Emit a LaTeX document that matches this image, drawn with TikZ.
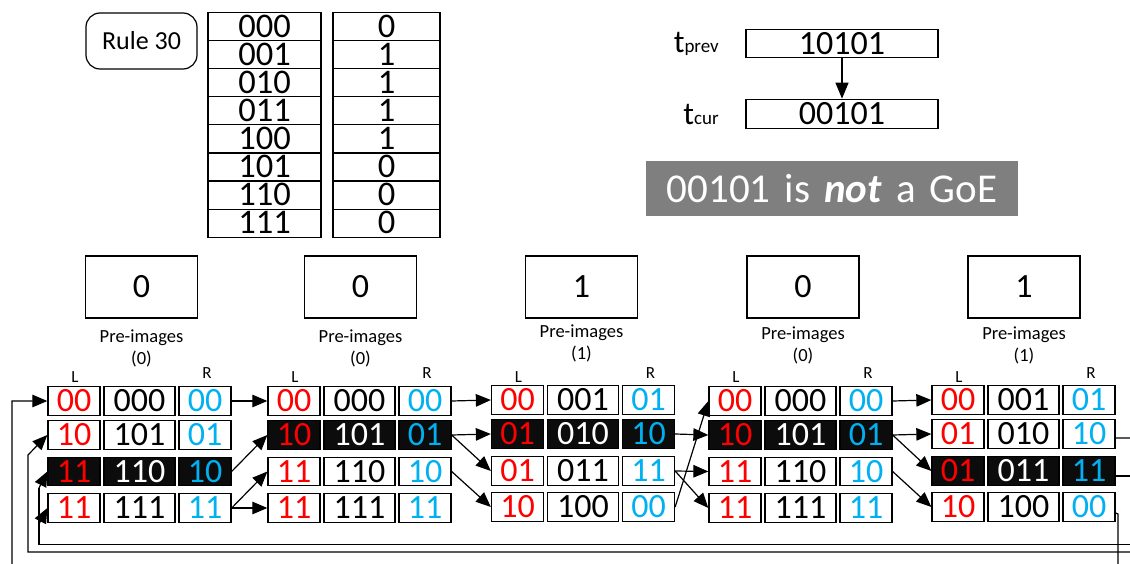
\documentclass[tikz,border=0pt]{standalone}
\usepackage{fontspec}
\setmainfont{Carlito}
\usetikzlibrary{arrows.meta}
\definecolor{cred}{RGB}{255,0,0}
\definecolor{ccyan}{RGB}{0,176,240}
\definecolor{cblack}{RGB}{12,12,12}
\definecolor{cgray}{RGB}{127,127,127}

% one row of a pre-image group: group, row, left x, centre y, L, middle, R, row style
\newcommand\cellrow[8]{%
  \node[lcell,#8]     (g#1l#2) at ({#3+26},#4)   {#5};
  \node[mcell,#8mid]  (g#1m#2) at ({#3+91.5},#4) {#6};
  \node[rcell,#8]     (g#1r#2) at ({#3+157},#4)  {#7};
}
% column heads of a group
\newcommand\cellgroup[2]{%
  \node[fs=17] (g#1lab) at ({#2+27},377) {L};
  \node[fs=17] (g#1rab) at ({#2+159},373) {R};
}

\begin{document}
\begin{tikzpicture}[x=1pt,y=-1pt,
  fs/.style={font=\fontsize{#1}{#1}\selectfont},
  box/.style={draw, line width=1.3pt, inner sep=0pt},
  cell/.style={box, minimum height=28.5pt, text height=21.5pt, text depth=0pt, fs=34},
  lcell/.style={cell, minimum width=52pt, text=cred},
  mcell/.style={cell, minimum width=71pt},
  rcell/.style={cell, minimum width=52pt, text=ccyan},
  darkrow/.style={fill=cblack},
  darkrowmid/.style={fill=cblack, text=white},
  plainrow/.style={},
  plainrowmid/.style={},
  tcell/.style={box, minimum height=28.1pt, text height=21.5pt, text depth=0pt, fs=34.5},
  arr/.style={line width=1.2pt, -{Triangle[length=15pt,width=12.5pt]}},
  wire/.style={line width=1.2pt},
  numbox/.style={box, minimum width=112pt, minimum height=62pt, fs=34},
  prelab/.style={font=\fontsize{18.5}{22}\selectfont, align=center, anchor=north},
  tlab/.style={anchor=base east, inner sep=0pt, fs=32},
]
\clip (0,0) rectangle (1130,564);

% rule box and rule table
\node[draw, line width=1.2pt, rounded corners=14pt, minimum width=111pt,
      minimum height=56pt, fs=26] (rule) at (141.5,41) {Rule 30};
\foreach \i/\a/\b in {1/000/0,2/001/1,3/010/1,4/011/1,5/100/1,6/101/0,7/110/0,8/111/0}{
  \node[tcell, minimum width=113pt] (ta\i) at (264.5,{12.3+28.125*(\i-0.5)}) {\a};
  \node[tcell, minimum width=107pt] (tb\i) at (386.5,{12.3+28.125*(\i-0.5)}) {\b};
}

% previous and current configurations
\node[box, minimum width=192pt, minimum height=28pt, text height=21.5pt, text depth=0pt, fs=34]
  (tprev) at (842,43.3) {10101};
\node[box, minimum width=192pt, minimum height=29pt, text height=21.5pt, text depth=0pt, fs=34]
  (tcur) at (842,113.8) {00101};
\draw[line width=1.2pt, -{Triangle[length=16pt,width=13pt]}] (tprev) -- (tcur);
\node[tlab] (lprev) at (719,53) {t{\fontsize{19}{19}\selectfont prev}};
\node[tlab] (lcur) at (719,125) {t{\fontsize{19}{19}\selectfont cur}};

\node[fill=cgray, minimum width=372pt, minimum height=55pt, text=white, fs=41]
  (goe) at (832,188.5) {\spaceskip 14pt\relax 00101 is \textbf{\textit{not}} a GoE};

% target cells with their pre-image counts
\node[numbox] (n1) at (141.5,287) {0};
\node[numbox] (n2) at (360.5,287) {0};
\node[numbox] (n3) at (581.5,287) {1};
\node[numbox] (n4) at (803,287) {0};
\node[numbox] (n5) at (1024,287) {1};
\node[prelab] (p1) at (141.5,326) {Pre-images\\(0)};
\node[prelab] (p2) at (360.5,326) {Pre-images\\(0)};
\node[prelab] (p3) at (581.5,321) {Pre-images\\(1)};
\node[prelab] (p4) at (803,323) {Pre-images\\(0)};
\node[prelab] (p5) at (1024,323) {Pre-images\\(1)};

% neighbourhood groups
\cellgroup{1}{48}
\cellrow{1}{1}{48}{401}{00}{000}{00}{plainrow}
\cellrow{1}{2}{48}{435}{10}{101}{01}{plainrow}
\cellrow{1}{3}{48}{471.5}{11}{110}{10}{darkrow}
\cellrow{1}{4}{48}{508}{11}{111}{11}{plainrow}

\cellgroup{2}{268}
\cellrow{2}{1}{268}{401}{00}{000}{00}{plainrow}
\cellrow{2}{2}{268}{435}{10}{101}{01}{darkrow}
\cellrow{2}{3}{268}{471.5}{11}{110}{10}{plainrow}
\cellrow{2}{4}{268}{508}{11}{111}{11}{plainrow}

\cellgroup{3}{491.5}
\cellrow{3}{1}{491.5}{400}{00}{001}{01}{plainrow}
\cellrow{3}{2}{491.5}{434}{01}{010}{10}{darkrow}
\cellrow{3}{3}{491.5}{471}{01}{011}{11}{plainrow}
\cellrow{3}{4}{491.5}{507}{10}{100}{00}{plainrow}

\cellgroup{4}{709}
\cellrow{4}{1}{709}{401}{00}{000}{00}{plainrow}
\cellrow{4}{2}{709}{435}{10}{101}{01}{darkrow}
\cellrow{4}{3}{709}{471.5}{11}{110}{10}{plainrow}
\cellrow{4}{4}{709}{508}{11}{111}{11}{plainrow}

\cellgroup{5}{932}
\cellrow{5}{1}{932}{400}{00}{001}{01}{plainrow}
\cellrow{5}{2}{932}{434}{01}{010}{10}{plainrow}
\cellrow{5}{3}{932}{471}{01}{011}{11}{darkrow}
\cellrow{5}{4}{932}{507}{10}{100}{00}{plainrow}

% overlapping neighbourhoods
\draw[arr] (g1r1.east) -- (g2l1.west);
\draw[arr] (g1r3.east) -- (g2l2.west);
\draw[arr] (g1r4.east) -- (g2l3.west);
\draw[arr] (g1r4.east) -- (g2l4.west);

\draw[arr] (g2r1.east) -- (g3l1.west);
\draw[arr] (g2r2.east) -- (g3l2.west);
\draw[arr] (g2r2.east) -- (g3l3.west);
\draw[arr] (g2r3.east) -- (g3l4.west);

\draw[arr] (g3r2.east) -- (g4l2.west);
\draw[arr] (g3r3.east) -- (g4l3.west);
\draw[arr] (g3r3.east) -- (g4l4.west);
\draw[arr] (g3r4.east) -- (g4l1.west);

\draw[arr] (g4r1.east) -- (g5l1.west);
\draw[arr] (g4r2.east) -- (g5l2.west);
\draw[arr] (g4r2.east) -- (g5l3.west);
\draw[arr] (g4r3.east) -- (g5l4.west);

% wrap-around from the last cell to the first
\coordinate (w3a) at (39,488);
\coordinate (w3b) at (39,524);
\draw[arr] ([yshift=-6pt]g5r4.east) -- (1118,514) -- (1118,590) -- (12,590) -- (12,401) -- (g1l1.west);
\draw[arr] ([yshift=-4pt]g5r2.east) -- (1142,438) -- (1142,552) -- (28,552) -- (28,455) -- (g1l2.west);
\draw[wire] ([yshift=-5pt]g5r3.east) -- (1134,476) -- (1134,544.5) -- (39,544.5) -- (w3a);
\draw[arr] (w3a) -- (g1l3.west);
\draw[arr] (w3b) -- (g1l4.west);
\end{tikzpicture}
\end{document}
